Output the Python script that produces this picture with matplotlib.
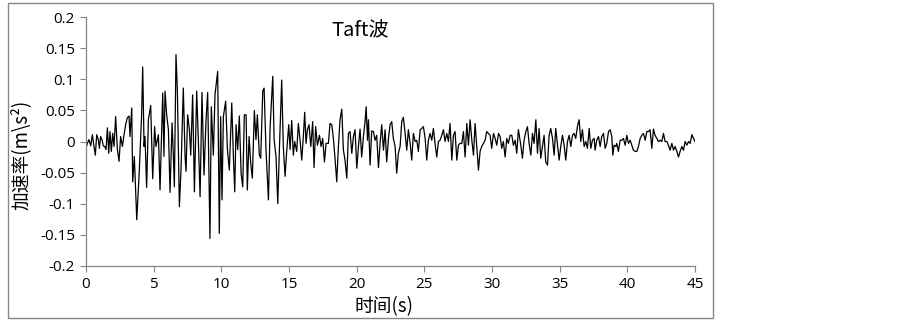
import matplotlib
matplotlib.use("Agg")
import matplotlib.pyplot as plt
from matplotlib.patches import Rectangle

# Taft波 加速度时程
times = [0.00, 0.10, 0.22, 0.35, 0.47, 0.59, 0.69, 0.79, 0.91, 0.99,
         1.08, 1.18, 1.28, 1.38, 1.48, 1.58, 1.68, 1.77, 1.87, 1.97,
         2.07, 2.19, 2.32, 2.44, 2.56, 2.69, 2.81, 2.93, 3.05, 3.18,
         3.25, 3.38, 3.45, 3.57, 3.75, 3.94, 4.11, 4.19, 4.29, 4.36,
         4.48, 4.61, 4.78, 4.93, 5.07, 5.17, 5.35, 5.47, 5.59, 5.67,
         5.76, 5.84, 5.96, 6.09, 6.21, 6.36, 6.45, 6.53, 6.65, 6.75,
         6.90, 7.02, 7.19, 7.32, 7.39, 7.51, 7.64, 7.74, 7.88, 8.01,
         8.18, 8.30, 8.43, 8.57, 8.72, 8.87, 8.99, 9.16, 9.26, 9.41,
         9.53, 9.73, 9.85, 9.95, 10.05, 10.15, 10.32, 10.45, 10.59, 10.77,
         10.89, 10.99, 11.09, 11.21, 11.33, 11.46, 11.58, 11.70, 11.83, 11.92,
         12.05, 12.17, 12.29, 12.44, 12.56, 12.66, 12.81, 12.91, 13.06, 13.16,
         13.30, 13.48, 13.60, 13.80, 13.90, 14.04, 14.17, 14.29, 14.46, 14.58,
         14.71, 14.83, 14.98, 15.08, 15.20, 15.32, 15.42, 15.57, 15.69, 15.82,
         15.94, 16.06, 16.16, 16.26, 16.36, 16.48, 16.61, 16.75, 16.85, 16.97,
         17.10, 17.25, 17.37, 17.49, 17.62, 17.74, 17.91, 18.03, 18.16, 18.28,
         18.40, 18.53, 18.65, 18.77, 18.90, 19.02, 19.14, 19.27, 19.39, 19.51,
         19.64, 19.76, 19.88, 20.01, 20.13, 20.25, 20.37, 20.50, 20.62, 20.70,
         20.80, 20.87, 20.99, 21.11, 21.24, 21.36, 21.48, 21.61, 21.73, 21.85,
         21.98, 22.10, 22.22, 22.35, 22.47, 22.59, 22.71, 22.84, 22.96, 23.08,
         23.21, 23.33, 23.45, 23.58, 23.70, 23.82, 23.95, 24.07, 24.19, 24.32,
         24.44, 24.56, 24.69, 24.81, 24.93, 25.06, 25.18, 25.30, 25.43, 25.55,
         25.67, 25.79, 25.92, 26.04, 26.16, 26.29, 26.41, 26.53, 26.66, 26.78,
         26.90, 27.03, 27.15, 27.27, 27.40, 27.52, 27.64, 27.77, 27.89, 28.01,
         28.14, 28.26, 28.38, 28.51, 28.63, 28.75, 28.87, 29.00, 29.12, 29.24,
         29.37, 29.49, 29.61, 29.74, 29.86, 29.98, 30.11, 30.23, 30.35, 30.48,
         30.60, 30.72, 30.84, 30.97, 31.09, 31.21, 31.34, 31.46, 31.58, 31.71,
         31.83, 31.95, 32.13, 32.25, 32.37, 32.50, 32.62, 32.74, 32.87, 32.99,
         33.11, 33.24, 33.36, 33.48, 33.60, 33.73, 33.85, 33.97, 34.10, 34.22,
         34.34, 34.47, 34.59, 34.71, 34.84, 34.96, 35.08, 35.21, 35.33, 35.45,
         35.58, 35.70, 35.82, 35.95, 36.07, 36.19, 36.31, 36.44, 36.56, 36.68,
         36.81, 36.93, 37.05, 37.18, 37.30, 37.42, 37.55, 37.62, 37.74, 37.87,
         37.99, 38.11, 38.24, 38.36, 38.48, 38.61, 38.73, 38.85, 38.93, 39.02,
         39.15, 39.22, 39.34, 39.47, 39.59, 39.71, 39.84, 39.96, 40.08, 40.21,
         40.33, 40.45, 40.58, 40.70, 40.82, 40.95, 41.07, 41.19, 41.32, 41.44,
         41.56, 41.68, 41.81, 41.93, 42.05, 42.18, 42.30, 42.42, 42.55, 42.67,
         42.79, 42.92, 43.04, 43.16, 43.29, 43.41, 43.53, 43.66, 43.78, 43.90,
         44.03, 44.15, 44.27, 44.40, 44.52, 44.64, 44.77, 44.89, 45.00]

accel = [-0.011, -0.003, 0.003, -0.007, 0.011, -0.008, -0.022, 0.011, 0.003, -0.011,
         0.008, 0.003, -0.007, -0.008, -0.013, 0.022, -0.019, 0.016, -0.016, 0.013,
         -0.008, 0.040, -0.013, -0.032, 0.008, -0.008, 0.011, 0.027, 0.038, 0.041,
         0.008, 0.054, -0.065, -0.024, -0.126, -0.046, 0.043, 0.120, -0.008, 0.008,
         -0.074, 0.035, 0.058, -0.060, 0.024, -0.008, 0.011, -0.078, 0.013, 0.078,
         -0.024, 0.081, 0.043, 0.019, -0.082, 0.030, -0.019, -0.073, 0.140, 0.083,
         -0.105, -0.046, 0.086, -0.024, -0.048, 0.043, 0.019, -0.022, 0.075, -0.081,
         0.081, 0.003, -0.089, 0.079, -0.054, 0.035, 0.079, -0.156, 0.056, -0.022,
         0.075, 0.113, -0.148, 0.040, -0.094, 0.040, 0.065, -0.013, -0.046, 0.062,
         -0.024, -0.081, 0.027, -0.013, 0.041, -0.051, -0.073, 0.043, 0.043, -0.078,
         0.008, -0.035, -0.059, 0.050, 0.003, 0.043, -0.022, -0.027, 0.081, 0.086,
         -0.013, -0.094, 0.021, 0.105, 0.003, -0.024, -0.100, -0.013, 0.099, -0.008,
         -0.056, -0.016, 0.027, -0.013, 0.034, -0.022, 0.000, -0.016, 0.029, 0.002,
         -0.030, 0.008, 0.047, -0.003, 0.019, 0.027, -0.008, 0.032, -0.042, 0.024,
         -0.006, 0.010, -0.008, 0.005, -0.033, -0.003, -0.003, 0.029, 0.027, 0.005,
         -0.027, -0.065, -0.008, 0.035, 0.052, -0.014, -0.030, -0.059, 0.013, 0.016,
         -0.019, 0.008, 0.019, -0.043, -0.008, 0.020, -0.025, 0.008, 0.032, 0.056,
         0.002, 0.035, -0.038, 0.017, 0.016, 0.002, 0.010, -0.042, -0.003, 0.027,
         -0.014, 0.019, -0.033, 0.005, 0.027, 0.032, 0.005, -0.008, -0.051, -0.019,
         -0.008, 0.032, 0.039, 0.013, -0.014, 0.019, -0.003, -0.030, 0.013, 0.000,
         0.002, -0.016, 0.019, 0.021, 0.024, 0.005, -0.030, 0.002, 0.013, 0.002,
         0.021, -0.003, -0.025, 0.000, 0.002, 0.010, 0.019, 0.000, 0.013, 0.000,
         0.029, -0.030, 0.010, 0.016, -0.030, -0.006, -0.003, -0.003, 0.016, -0.025,
         0.029, -0.006, 0.035, 0.002, -0.022, 0.029, -0.006, -0.046, -0.016, -0.008,
         -0.003, 0.002, 0.016, 0.013, 0.010, -0.011, 0.013, 0.005, -0.006, 0.013,
         0.008, -0.011, 0.000, -0.025, 0.005, -0.003, 0.010, 0.010, -0.006, 0.002,
         -0.019, 0.019, -0.006, -0.027, 0.002, 0.016, 0.024, -0.003, -0.022, 0.013,
         -0.003, 0.035, -0.019, 0.021, -0.027, -0.008, 0.010, -0.033, -0.038, 0.010,
         0.021, 0.005, -0.022, 0.021, -0.006, -0.030, -0.008, 0.010, -0.006, -0.030,
         0.000, 0.010, -0.008, 0.010, 0.013, 0.005, 0.024, 0.035, 0.000, 0.019,
         -0.008, 0.000, -0.011, 0.021, -0.011, 0.002, 0.005, -0.014, 0.002, 0.008,
         -0.008, 0.008, 0.013, -0.011, -0.003, 0.016, 0.019, 0.008, -0.022, -0.006,
         -0.008, -0.003, -0.016, 0.002, 0.002, 0.005, -0.006, 0.010, -0.003, 0.002,
         -0.006, -0.014, -0.016, -0.016, -0.008, 0.005, 0.010, 0.013, 0.002, 0.016,
         0.016, 0.019, -0.011, 0.020, 0.010, 0.005, 0.000, 0.002, 0.000, 0.013,
         0.000, 0.000, -0.006, -0.014, -0.003, -0.014, -0.008, -0.016, -0.025, -0.016,
         -0.008, -0.014, 0.000, -0.006, 0.000, -0.003, 0.011, 0.005, 0.000]

x_ticks = [0, 5, 10, 15, 20, 25, 30, 35, 40, 45]
y_ticks = [-0.2, -0.15, -0.1, -0.05, 0, 0.05, 0.1, 0.15, 0.2]
y_tick_labels = ['-0.2', '-0.15', '-0.1', '-0.05', '0', '0.05', '0.1', '0.15', '0.2']

plt.rcParams['font.family'] = ['Open Sans', 'Noto Sans CJK SC', 'DejaVu Sans']
cjk = ['Noto Sans CJK SC', 'DejaVu Sans']
grey = '#868686'

fig = plt.figure(figsize=(9.03, 3.22), dpi=100)
W, H = 903.0, 322.0
ax = fig.add_axes([86 / W, 1 - 265.7 / H, (695 - 86) / W, (265.7 - 17.3) / H])

ax.plot(times, accel, color='black', lw=0.9)

ax.set_xlim(0, 45)
ax.set_ylim(-0.2, 0.2)
ax.set_xticks(x_ticks)
ax.set_xticklabels([str(t) for t in x_ticks])
ax.set_yticks(y_ticks)
ax.set_yticklabels(y_tick_labels)
ax.tick_params(labelsize=11, colors=grey, labelcolor='black', length=4, width=0.8)
ax.tick_params(axis='x', pad=4)
ax.tick_params(axis='y', pad=4)

for s in ['top', 'right']:
    ax.spines[s].set_visible(False)
for s in ['left', 'bottom']:
    ax.spines[s].set_color(grey)
    ax.spines[s].set_linewidth(0.9)

# 标题和坐标轴名称
fig.text(360 / W, 1 - 31 / H, 'Taft波', ha='center', va='center', fontsize=14.5, family=cjk)
fig.text(384 / W, 1 - 307 / H, '时间(s)', ha='center', va='center', fontsize=13.5, family=cjk)
fig.text(21 / W, 1 - 155 / H, '加速率(m\\s²)', ha='center', va='center', rotation=90,
         fontsize=13.5, family=cjk)

# 图表外框
fig.patches.append(Rectangle((8 / W, 1 - 318 / H), (713 - 8) / W, (318 - 3) / H,
                             transform=fig.transFigure, fill=False, edgecolor=grey, lw=1.0))

plt.savefig('out.png', dpi=100)
